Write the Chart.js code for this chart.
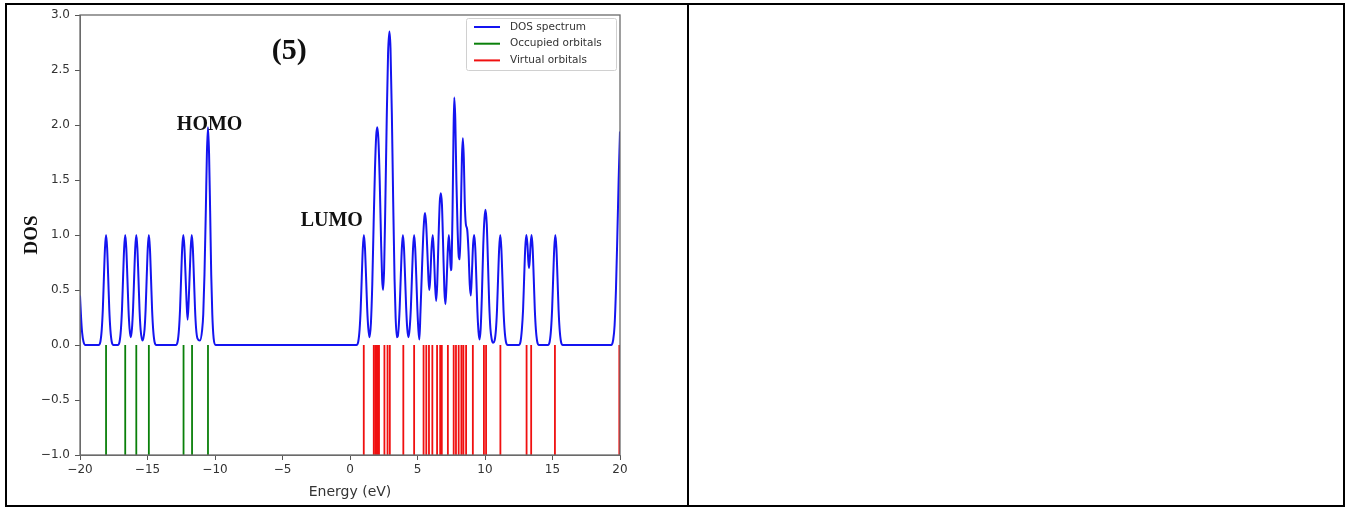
<!doctype html>
<html lang="en">
<head>
<meta charset="utf-8">
<title>DOS spectrum (5)</title>
<script src="https://cdn.jsdelivr.net/npm/chart.js@4.4.1/dist/chart.umd.min.js"></script>
<style>
    html, body { margin: 0; padding: 0; background: #fff; }
    #page { position: relative; width: 1346px; height: 508px; }
    #chart { position: absolute; left: 0; top: 0; }
    .rule { position: absolute; background: #000; }
</style>
</head>
<body>
<div id="page">
    <canvas id="chart" width="686" height="505"></canvas>
    <!-- table borders -->
    <div class="rule" style="left:5px;top:3px;width:1340px;height:2px"></div>
    <div class="rule" style="left:5px;top:505px;width:1340px;height:2px"></div>
    <div class="rule" style="left:5px;top:3px;width:2px;height:504px"></div>
    <div class="rule" style="left:687px;top:3px;width:2px;height:504px"></div>
    <div class="rule" style="left:1343px;top:3px;width:2px;height:504px"></div>
</div>

<script>
    // orbital energies (eV)
    const occupied = [-18.07, -16.65, -15.83, -14.9, -12.33, -11.7, -10.52];
    const virtual = [1.02, 1.76, 1.9, 2.02, 2.15, 2.55, 2.78, 2.95, 3.95, 4.75, 5.45, 5.65, 5.85, 6.1,
        6.45, 6.68, 6.8, 7.25, 7.68, 7.85, 8.05, 8.25, 8.4, 8.6, 9.1, 9.92, 10.08, 11.14,
        13.08, 13.42, 15.18, 19.95];

    // DOS curve: [energy, dos]
    const dosCurve = [
        [-20, 0.45], [-19.92, 0.25], [-19.84, 0.11], [-19.74, 0.03], [-19.6, 0],
        // occupied peaks
        [-18.62, 0], [-18.49, 0.03], [-18.39, 0.14], [-18.31, 0.32], [-18.23, 0.61], [-18.15, 0.88],
        [-18.07, 1.0], [-17.99, 0.88], [-17.91, 0.61], [-17.83, 0.32], [-17.75, 0.14], [-17.65, 0.03], [-17.52, 0],
        [-17.2, 0], [-17.07, 0.03], [-16.97, 0.14], [-16.89, 0.32], [-16.81, 0.61], [-16.73, 0.88],
        [-16.65, 1.0], [-16.57, 0.88], [-16.49, 0.61], [-16.41, 0.33], [-16.33, 0.15], [-16.24, 0.07],
        [-16.15, 0.15], [-16.07, 0.33], [-15.99, 0.61], [-15.91, 0.88], [-15.83, 1.0], [-15.75, 0.88],
        [-15.67, 0.61], [-15.59, 0.32], [-15.51, 0.14], [-15.37, 0.04], [-15.22, 0.14], [-15.14, 0.32],
        [-15.06, 0.61], [-14.98, 0.88], [-14.9, 1.0], [-14.82, 0.88], [-14.74, 0.61], [-14.66, 0.32],
        [-14.58, 0.14], [-14.48, 0.03], [-14.35, 0],
        [-12.9, 0], [-12.77, 0.03], [-12.67, 0.14], [-12.59, 0.32], [-12.51, 0.61], [-12.43, 0.88],
        [-12.35, 1.0], [-12.27, 0.9], [-12.19, 0.66], [-12.11, 0.4], [-12.03, 0.23], [-11.95, 0.4],
        [-11.87, 0.66], [-11.79, 0.9], [-11.72, 1.0], [-11.64, 0.88], [-11.56, 0.61], [-11.48, 0.33],
        [-11.4, 0.15], [-11.3, 0.06], [-11.12, 0.04], [-10.95, 0.14], [-10.87, 0.28], [-10.78, 0.64],
        [-10.68, 1.22], [-10.6, 1.74], [-10.52, 1.98], [-10.44, 1.74], [-10.36, 1.22], [-10.28, 0.64],
        [-10.2, 0.28], [-10.1, 0.06], [-9.95, 0],
        // virtual peaks
        [0.48, 0], [0.61, 0.03], [0.71, 0.14], [0.79, 0.32], [0.87, 0.61], [0.95, 0.88], [1.03, 1.0],
        [1.11, 0.88], [1.19, 0.62], [1.27, 0.34], [1.35, 0.16], [1.45, 0.07], [1.55, 0.2], [1.65, 0.55],
        [1.75, 1.1], [1.85, 1.6], [1.94, 1.9], [2.02, 1.98], [2.1, 1.88], [2.2, 1.5], [2.3, 0.95],
        [2.38, 0.6], [2.45, 0.5], [2.53, 0.7], [2.62, 1.3], [2.72, 2.05], [2.82, 2.65], [2.92, 2.85],
        [3.0, 2.7], [3.1, 2.1], [3.2, 1.3], [3.3, 0.6], [3.38, 0.25], [3.47, 0.07], [3.54, 0.08],
        [3.6, 0.15], [3.68, 0.34], [3.76, 0.62], [3.84, 0.88], [3.92, 1.0], [4.0, 0.88], [4.08, 0.62],
        [4.16, 0.34], [4.24, 0.15], [4.33, 0.07], [4.42, 0.15], [4.51, 0.34], [4.59, 0.62], [4.67, 0.88],
        [4.75, 1.0], [4.83, 0.88], [4.91, 0.62], [4.99, 0.33], [5.07, 0.13], [5.14, 0.05],
        [5.22, 0.3], [5.32, 0.65], [5.42, 0.98], [5.5, 1.15], [5.56, 1.2], [5.64, 1.1], [5.74, 0.82],
        [5.82, 0.58], [5.88, 0.5], [5.95, 0.62], [6.04, 0.88], [6.13, 1.0], [6.21, 0.85], [6.3, 0.55],
        [6.38, 0.4], [6.46, 0.55], [6.56, 0.98], [6.65, 1.3], [6.73, 1.38], [6.81, 1.28], [6.9, 0.9],
        [6.99, 0.5], [7.07, 0.37], [7.15, 0.55], [7.24, 0.85], [7.32, 1.0], [7.4, 0.85], [7.47, 0.68],
        [7.53, 0.75], [7.6, 1.25], [7.66, 1.85], [7.72, 2.25], [7.8, 2.05], [7.88, 1.5], [7.97, 1.05],
        [8.06, 0.8], [8.14, 0.78], [8.22, 1.25], [8.29, 1.7], [8.36, 1.88], [8.43, 1.7], [8.5, 1.3],
        [8.58, 1.1], [8.68, 1.05], [8.78, 0.85], [8.87, 0.55], [8.95, 0.45], [9.03, 0.65], [9.12, 0.92],
        [9.2, 1.0], [9.28, 0.88], [9.36, 0.6], [9.44, 0.3], [9.52, 0.12], [9.6, 0.05], [9.68, 0.15],
        [9.77, 0.45], [9.87, 0.9], [9.96, 1.15], [10.04, 1.23], [10.13, 1.1], [10.22, 0.75], [10.31, 0.38],
        [10.4, 0.15], [10.5, 0.05], [10.6, 0.02], [10.71, 0.04], [10.81, 0.14], [10.89, 0.32],
        [10.97, 0.61], [11.05, 0.88], [11.13, 1.0], [11.21, 0.88], [11.29, 0.61], [11.37, 0.32],
        [11.45, 0.14], [11.55, 0.03], [11.68, 0],
        [12.5, 0], [12.63, 0.03], [12.73, 0.14], [12.82, 0.32], [12.9, 0.61], [12.98, 0.88], [13.06, 1.0],
        [13.14, 0.92], [13.2, 0.78], [13.26, 0.7], [13.32, 0.78], [13.38, 0.92], [13.45, 1.0], [13.53, 0.88],
        [13.61, 0.61], [13.69, 0.32], [13.77, 0.14], [13.87, 0.03], [14.0, 0],
        [14.66, 0], [14.79, 0.03], [14.89, 0.14], [14.97, 0.32], [15.05, 0.61], [15.13, 0.88], [15.21, 1.0],
        [15.29, 0.88], [15.37, 0.61], [15.45, 0.32], [15.53, 0.14], [15.63, 0.03], [15.76, 0],
        [19.35, 0], [19.5, 0.05], [19.6, 0.18], [19.7, 0.5], [19.8, 0.98], [19.9, 1.5], [20, 1.94]
    ];

    // text labels placed in data units
    const notes = [
        {text: '(5)', x: -4.5, y: 2.67, size: 30},
        {text: 'HOMO', x: -10.4, y: 2.0, size: 20},
        {text: 'LUMO', x: -1.35, y: 1.13, size: 20}
    ];

    const minus = s => String(s).replace('-', '\u2212');

    // each orbital becomes a vertical stick from 0 down to -1
    function sticks(list) {
        const pts = [];
        list.forEach(e => pts.push({x: e, y: 0}, {x: e, y: -1}, {x: e, y: null}));
        return pts;
    }

    const frame = {
        id: 'frame',
        afterDatasetsDraw(chart) {
            const {ctx, chartArea: a} = chart;
            ctx.save();
            ctx.strokeStyle = '#6a6a6a';
            ctx.lineWidth = 1.3;
            ctx.strokeRect(a.left, a.top, a.right - a.left, a.bottom - a.top);
            ctx.restore();
        }
    };

    const labels = {
        id: 'labels',
        afterDraw(chart) {
            const {ctx, scales} = chart;
            ctx.save();
            ctx.fillStyle = '#111';
            ctx.textAlign = 'center';
            ctx.textBaseline = 'middle';
            notes.forEach(n => {
                ctx.font = 'bold ' + n.size + 'px "Liberation Serif", "Times New Roman", serif';
                ctx.fillText(n.text, scales.x.getPixelForValue(n.x), scales.y.getPixelForValue(n.y));
            });
            ctx.restore();
        }
    };

    // legend box in the upper right corner of the axes
    const boxLegend = {
        id: 'boxLegend',
        afterDraw(chart) {
            const {ctx, chartArea: a} = chart;
            const right = a.right - 4, top = a.top + 3, w = 150, h = 52;
            ctx.save();
            ctx.fillStyle = 'rgba(255,255,255,0.85)';
            ctx.strokeStyle = '#d0d0d0';
            ctx.lineWidth = 1;
            ctx.beginPath();
            ctx.roundRect(right - w + 0.5, top + 0.5, w, h, 2);
            ctx.fill();
            ctx.stroke();
            ctx.font = '10.5px "DejaVu Sans", sans-serif';
            ctx.textBaseline = 'middle';
            ctx.fillStyle = '#333';
            chart.data.datasets.forEach((ds, i) => {
                const y = top + 9 + i * 16.7;
                const x0 = right - w + 8;
                ctx.strokeStyle = ds.borderColor;
                ctx.lineWidth = 2;
                ctx.beginPath();
                ctx.moveTo(x0, y);
                ctx.lineTo(x0 + 26, y);
                ctx.stroke();
                ctx.fillText(ds.label, x0 + 36, y);
            });
            ctx.restore();
        }
    };

    new Chart(document.getElementById('chart').getContext('2d'), {
        type: 'line',
        data: {
            datasets: [{
                label: 'DOS spectrum',
                data: dosCurve.map(p => ({x: p[0], y: p[1]})),
                borderColor: '#1414f0',
                borderWidth: 2,
                pointRadius: 0,
                cubicInterpolationMode: 'monotone'
            }, {
                label: 'Occupied orbitals',
                data: sticks(occupied),
                borderColor: '#0a800a',
                borderWidth: 1.8,
                pointRadius: 0,
                spanGaps: false
            }, {
                label: 'Virtual orbitals',
                data: sticks(virtual),
                borderColor: '#f01010',
                borderWidth: 1.8,
                pointRadius: 0,
                spanGaps: false
            }]
        },
        options: {
            responsive: false,
            animation: false,
            devicePixelRatio: 1,
            layout: {padding: {top: 15, right: 66, bottom: 0, left: 0}},
            plugins: {
                legend: {display: false},
                tooltip: {enabled: false}
            },
            scales: {
                x: {
                    type: 'linear',
                    min: -20,
                    max: 20,
                    afterFit: s => { s.height = 50; },
                    ticks: {
                        stepSize: 5,
                        padding: 3,
                        color: '#333',
                        font: {family: 'DejaVu Sans', size: 12},
                        callback: v => minus(v)
                    },
                    grid: {drawOnChartArea: false, drawTicks: true, tickLength: 5, color: '#555'},
                    border: {color: '#6a6a6a'},
                    title: {
                        display: true,
                        text: 'Energy (eV)',
                        color: '#333',
                        font: {family: 'DejaVu Sans', size: 14},
                        padding: {top: 0, bottom: 4}
                    }
                },
                y: {
                    min: -1,
                    max: 3,
                    afterFit: s => { s.width = 80; },
                    ticks: {
                        stepSize: 0.5,
                        padding: 5,
                        color: '#333',
                        font: {family: 'DejaVu Sans', size: 12},
                        callback: v => minus(Number(v).toFixed(1))
                    },
                    grid: {drawOnChartArea: false, drawTicks: true, tickLength: 5, color: '#555'},
                    border: {color: '#6a6a6a'},
                    title: {
                        display: true,
                        text: 'DOS',
                        color: '#111',
                        font: {family: 'Liberation Serif', weight: 'bold', size: 19},
                        padding: {top: 21, bottom: 0}
                    }
                }
            }
        },
        plugins: [frame, labels, boxLegend]
    });
</script>
</body>
</html>
